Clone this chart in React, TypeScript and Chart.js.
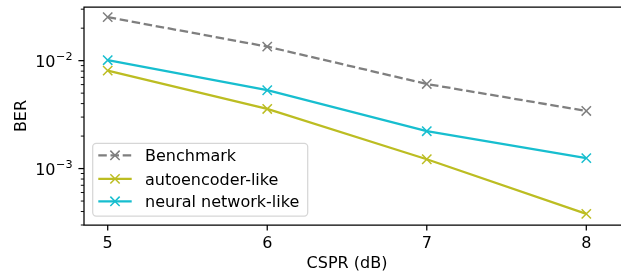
import React, { useEffect, useRef } from "react";
import { Chart, registerables } from "chart.js";

Chart.register(...registerables);

const cspr = [5, 6, 7, 8];
const benchmark = [0.0253, 0.0135, 0.00608, 0.00342];
const autoencoderLike = [0.00808, 0.00357, 0.00122, 0.00038];
const neuralNetworkLike = [0.0101, 0.00532, 0.00222, 0.00125];
const seriesLabels = ["Benchmark", "autoencoder-like", "neural network-like"];
const xTicks = [5, 6, 7, 8];
const yMajorExps = [-2, -3];
const xTitle = "CSPR (dB)";
const yTitle = "BER";

const FONT = '"DejaVu Sans", sans-serif';
const FS = 16;
const LW = 2.3;
const MR = 6.6;

const axesPlugin = {
  id: "mplAxes",
  afterDatasetsDraw(chart: any) {
    const ctx = chart.ctx as CanvasRenderingContext2D;
    const { left, right, top, bottom } = chart.chartArea;
    const xs = chart.scales.x;
    const ys = chart.scales.y;
    ctx.save();
    ctx.strokeStyle = "#000";
    ctx.lineWidth = 1.25;
    ctx.beginPath();
    ctx.moveTo(right + 2, top);
    ctx.lineTo(left, top);
    ctx.lineTo(left, bottom);
    ctx.lineTo(right + 2, bottom);
    ctx.stroke();
    ctx.fillStyle = "#000";
    ctx.font = `${FS}px ${FONT}`;
    ctx.textAlign = "center";
    ctx.textBaseline = "alphabetic";
    for (const t of xTicks) {
      const px = xs.getPixelForValue(t);
      ctx.beginPath();
      ctx.moveTo(px, bottom);
      ctx.lineTo(px, bottom + 5.6);
      ctx.stroke();
      ctx.fillText(String(t), px, bottom + 23.3);
    }
    const ymin = ys.min, ymax = ys.max;
    for (let e = -5; e <= 0; e++) {
      for (let m = 1; m <= 9; m++) {
        const v = m * Math.pow(10, e);
        if (v < ymin || v > ymax) continue;
        const py = ys.getPixelForValue(v);
        const len = m === 1 ? 5.6 : 3.2;
        ctx.lineWidth = m === 1 ? 1.25 : 0.95;
        ctx.beginPath();
        ctx.moveTo(left, py);
        ctx.lineTo(left - len, py);
        ctx.stroke();
      }
    }
    for (const e of yMajorExps) {
      const py = ys.getPixelForValue(Math.pow(10, e));
      const sup = "\u2212" + String(Math.abs(e));
      ctx.font = `${FS * 0.7}px ${FONT}`;
      const sw = ctx.measureText(sup).width;
      ctx.textAlign = "left";
      const xr = left - 11.5;
      ctx.fillText(sup, xr - sw, py - 0.5);
      ctx.font = `${FS}px ${FONT}`;
      ctx.textAlign = "right";
      ctx.fillText("10", xr - sw - 0.5, py + 6);
    }
    ctx.font = `${FS}px ${FONT}`;
    ctx.textAlign = "center";
    ctx.fillText(xTitle, 347, 267.5);
    ctx.save();
    ctx.translate(25.5, (top + bottom) / 2);
    ctx.rotate(-Math.PI / 2);
    ctx.fillText(yTitle, 0, 0);
    ctx.restore();

    const bx = 92.7, by = 143.3, bw = 215, bh = 72.7, r = 3.5;
    ctx.beginPath();
    ctx.moveTo(bx + r, by);
    ctx.lineTo(bx + bw - r, by);
    ctx.arcTo(bx + bw, by, bx + bw, by + r, r);
    ctx.lineTo(bx + bw, by + bh - r);
    ctx.arcTo(bx + bw, by + bh, bx + bw - r, by + bh, r);
    ctx.lineTo(bx + r, by + bh);
    ctx.arcTo(bx, by + bh, bx, by + bh - r, r);
    ctx.lineTo(bx, by + r);
    ctx.arcTo(bx, by, bx + r, by, r);
    ctx.closePath();
    ctx.fillStyle = "rgba(255,255,255,0.8)";
    ctx.fill();
    ctx.strokeStyle = "rgba(204,204,204,0.8)";
    ctx.lineWidth = 1.25;
    ctx.stroke();
    const rows = [155.3, 178.9, 201.3];
    chart.data.datasets.forEach((ds: any, i: number) => {
      const y = rows[i];
      ctx.strokeStyle = ds.borderColor;
      ctx.lineWidth = LW;
      ctx.setLineDash(ds.borderDash || []);
      ctx.beginPath();
      ctx.moveTo(98.3, y);
      ctx.lineTo(131.7, y);
      ctx.stroke();
      ctx.setLineDash([]);
      ctx.lineWidth = 1.5;
      const s = MR * 0.707;
      ctx.beginPath();
      ctx.moveTo(115 - s, y - s);
      ctx.lineTo(115 + s, y + s);
      ctx.moveTo(115 - s, y + s);
      ctx.lineTo(115 + s, y - s);
      ctx.stroke();
      ctx.fillStyle = "#000";
      ctx.textAlign = "left";
      ctx.font = `${FS}px ${FONT}`;
      ctx.fillText(ds.label, 145, y + 5.8);
    });
    ctx.restore();
  },
};

export default function App() {
  const ref = useRef<HTMLCanvasElement | null>(null);
  useEffect(() => {
    if (!ref.current) return;
    const mk = (data: number[]) => data.map((v, i) => ({ x: cspr[i], y: v }));
    const style = (color: string, dash?: number[]) => ({
      borderColor: color,
      borderDash: dash || [],
      borderWidth: LW,
      pointStyle: "crossRot" as const,
      pointRadius: MR,
      pointBorderWidth: 1.5,
      pointBorderColor: color,
      pointBackgroundColor: color,
      fill: false,
    });
    const chart = new Chart(ref.current, {
      type: "line",
      data: {
        datasets: [
          { label: seriesLabels[0], data: mk(benchmark), ...style("#7f7f7f", [8.5, 3.7]) },
          { label: seriesLabels[1], data: mk(autoencoderLike), ...style("#bcbd22") },
          { label: seriesLabels[2], data: mk(neuralNetworkLike), ...style("#17becf") },
        ],
      },
      options: {
        animation: false,
        responsive: false,
        devicePixelRatio: 1,
        layout: { autoPadding: false, padding: { left: 84, right: 0, top: 7, bottom: 50 } },
        plugins: { legend: { display: false }, tooltip: { enabled: false } },
        scales: {
          x: { type: "linear", min: 4.8514, max: 8.2175, display: false },
          y: { type: "logarithmic", min: 0.000301, max: 0.03143, display: false },
        },
      },
      plugins: [axesPlugin],
    });
    return () => chart.destroy();
  }, []);
  return (
    <div style={{ position: "fixed", left: 0, top: 0, width: 621, height: 275, background: "#fff" }}>
      <canvas ref={ref} width={621} height={275} style={{ display: "block" }} />
    </div>
  );
}
